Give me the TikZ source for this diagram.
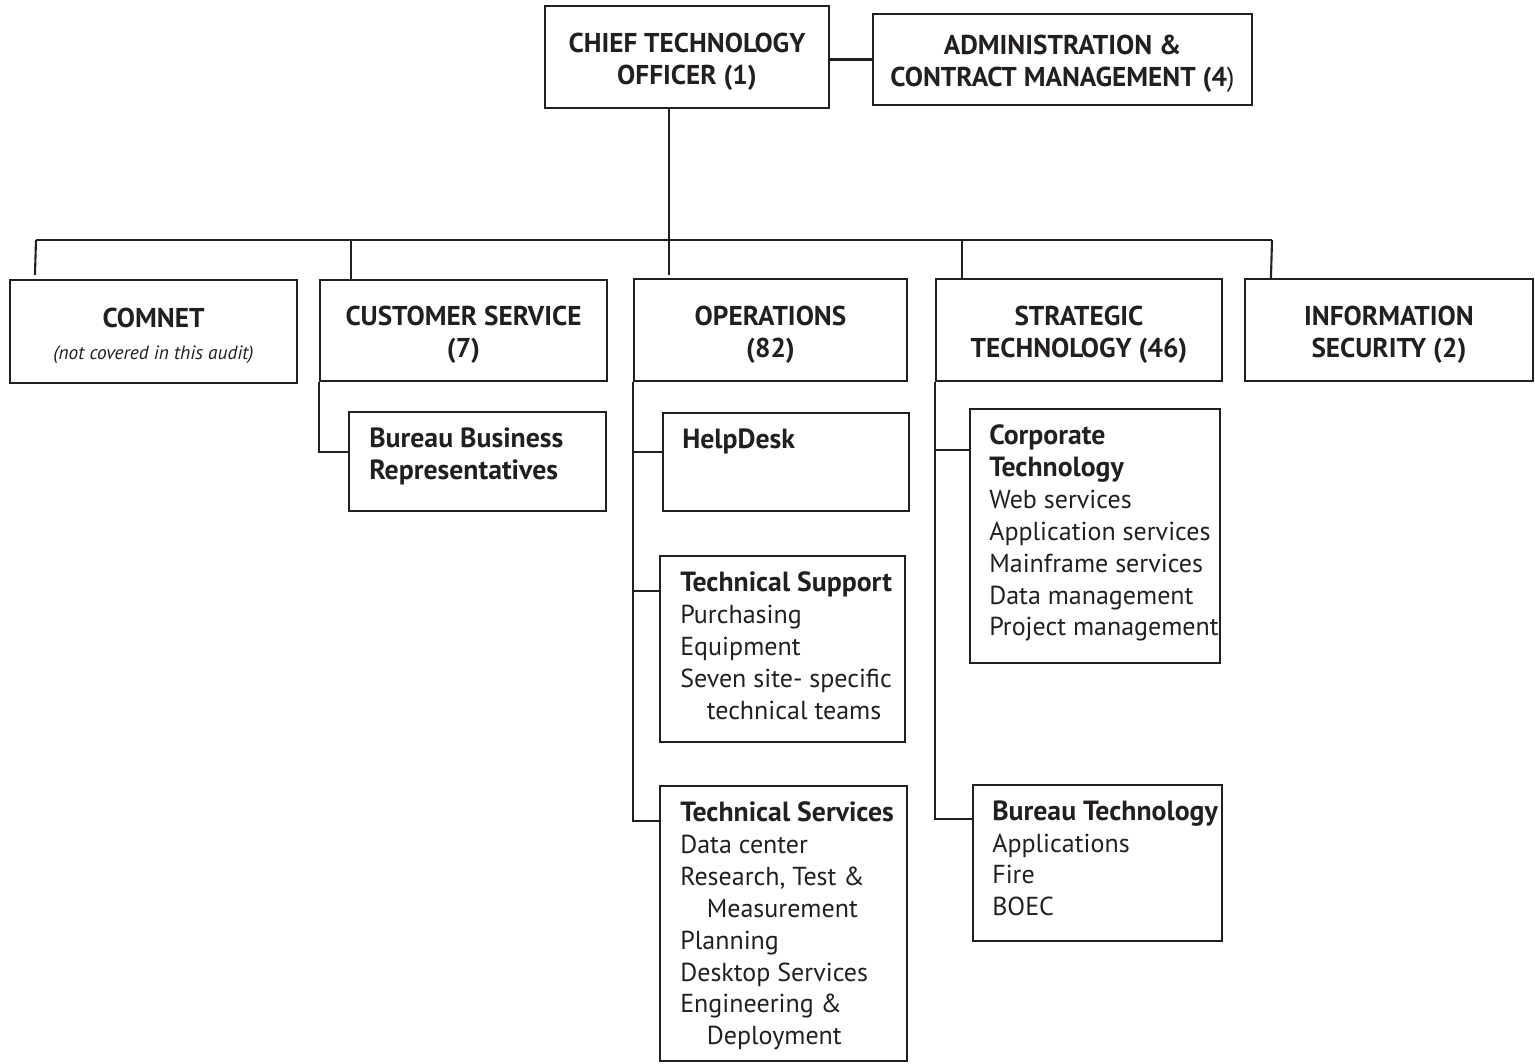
\documentclass[tikz,border=0pt]{standalone}
\usepackage{fontspec}
\setmainfont{PT Sans}
\usetikzlibrary{calc, fit}
\definecolor{ink}{RGB}{35,31,32}
\tikzset{
    unit-box/.style={
        draw=ink, rectangle, line width=1.2pt, inner sep=0pt
    },
    head-text/.style={
        align=center, inner sep=0pt, yshift=-0.09cm, text=ink, font=\bfseries\fontsize{15.5}{18.2}\selectfont
    },
    sub-text/.style={
        anchor=north west, align=left, inner sep=0pt, text=ink, font=\fontsize{14.8}{18.2}\selectfont
    },
    link/.style={
        draw=ink, line width=1.2pt
    },
}
\newcommand{\subhead}[1]{{\bfseries\fontsize{15.8}{18.2}\selectfont #1}}
\newcommand{\indentline}{\hspace*{0.53cm}}

\begin{document}
\begin{tikzpicture}[x=0.02cm, y=-0.02cm]

        \useasboundingbox (0,0) rectangle (1535,1063);

        % TOP LEVEL
        \node[unit-box, fit={(545,6) (829,108)},
              label={[head-text]center:CHIEF TECHNOLOGY\\OFFICER (1)}]   (CTO)   {};
        \node[unit-box, fit={(873,14) (1252,105)},
              label={[head-text]center:ADMINISTRATION \&\\CONTRACT MANAGEMENT (4{\mdseries )}}] (ADMIN) {};
        \draw[link] (ADMIN.west) -- (ADMIN.west -| CTO.east);

        % DIVISIONS
        \node[unit-box, fit={(10,280) (297,383)},
              label={[head-text]center:COMNET\\{\mdseries\itshape\fontsize{11}{18.2}\selectfont (not covered in this audit)}}] (COMNET) {};
        \node[unit-box, fit={(320,280) (607,381)},
              label={[head-text]center:CUSTOMER SERVICE\\(7)}]    (CUST)    {};
        \node[unit-box, fit={(634,279) (907,381)},
              label={[head-text]center:OPERATIONS\\(82)}]         (OPS)     {};
        \node[unit-box, fit={(936,279) (1222,381)},
              label={[head-text]center:STRATEGIC\\TECHNOLOGY (46)}] (STRAT) {};
        \node[unit-box, fit={(1245,279) (1533,381)},
              label={[head-text]center:INFORMATION\\SECURITY (2)}] (INFOSEC) {};

        % BUS AND DROPS
        \coordinate (CTOOUT) at ($(CTO.south west) + (125,0)$);
        \coordinate (BUSL) at (36,240);
        \coordinate (BUSR) at (1272,240);
        \coordinate (COMNETTOP)  at ($(COMNET.north west) + (26,0)$);
        \coordinate (CUSTTOP)    at ($(CUST.north west) + (32,0)$);
        \coordinate (OPSTOP)     at ($(OPS.north west) + (36,0)$);
        \coordinate (STRATTOP)   at ($(STRAT.north west) + (27,0)$);
        \coordinate (INFOSECTOP) at ($(INFOSEC.north west) + (27,0)$);
        \draw[link] (CTOOUT) -- ($(OPSTOP) + (0,-3)$);
        \draw[link] (BUSL) -- (BUSR);
        \draw[link] (BUSL) -- ($(COMNETTOP) + (0,-4)$);
        \draw[link] (CUSTTOP |- BUSL) -- (CUSTTOP);
        \draw[link] (STRATTOP |- BUSL) -- (STRATTOP);
        \draw[link] (BUSR) -- (INFOSECTOP);

        % CUSTOMER SERVICE UNITS
        \node[unit-box, fit={(349,412) (606,511)}] (BBR) {};
        \node[sub-text] (BBRTXT) at ($(BBR.north west) + (21,16)$) {\subhead{Bureau Business}\\\subhead{Representatives}};
        \draw[link] (CUST.south west) |- ($(BBR.north west) + (0,41)$);

        % OPERATIONS UNITS
        \node[unit-box, fit={(663,413) (909,511)}]  (HELPDESK) {};
        \node[sub-text] (HELPDESKTXT) at ($(HELPDESK.north west) + (20,16)$) {\subhead{HelpDesk}};
        \node[unit-box, fit={(660,556) (905,742)}]  (TECHSUP) {};
        \node[sub-text] (TECHSUPTXT) at ($(TECHSUP.north west) + (21,16)$)
            {\subhead{Technical Support}\\Purchasing\\Equipment\\Seven site- specific\\\indentline technical teams};
        \node[unit-box, fit={(660,786) (907,1061)}] (TECHSRV) {};
        \node[sub-text] (TECHSRVTXT) at ($(TECHSRV.north west) + (21,16)$)
            {\subhead{Technical Services}\\Data center\\Research, Test \&\\\indentline Measurement\\Planning\\Desktop Services\\Engineering \&\\\indentline Deployment};

        \coordinate (HELPDESKIN) at ($(HELPDESK.north west) + (0,40)$);
        \coordinate (TECHSUPIN)  at ($(TECHSUP.north west) + (0,36)$);
        \coordinate (TECHSRVIN)  at ($(TECHSRV.north west) + (0,36)$);
        \draw[link] (OPS.south west) |- (TECHSRVIN);
        \draw[link] (OPS.south west |- HELPDESKIN) -- (HELPDESKIN);
        \draw[link] (OPS.south west |- TECHSUPIN) -- (TECHSUPIN);

        % STRATEGIC TECHNOLOGY UNITS
        \node[unit-box, fit={(970,409) (1220,663)}] (CORPTECH) {};
        \node[sub-text] (CORPTECHTXT) at ($(CORPTECH.north west) + (20,16)$)
            {\subhead{Corporate}\\\subhead{Technology}\\Web services\\Application services\\Mainframe services\\Data management\\Project management};
        \node[unit-box, fit={(973,785) (1222,941)}] (BURTECH) {};
        \node[sub-text] (BURTECHTXT) at ($(BURTECH.north west) + (20,16)$)
            {\subhead{Bureau Technology}\\Applications\\Fire\\BOEC};

        \coordinate (CORPTECHIN) at ($(CORPTECH.north west) + (0,42)$);
        \coordinate (BURTECHIN)  at ($(BURTECH.north west) + (0,35)$);
        \draw[link] (STRAT.south west) |- (BURTECHIN);
        \draw[link] (STRAT.south west |- CORPTECHIN) -- (CORPTECHIN);

\end{tikzpicture}
\end{document}
